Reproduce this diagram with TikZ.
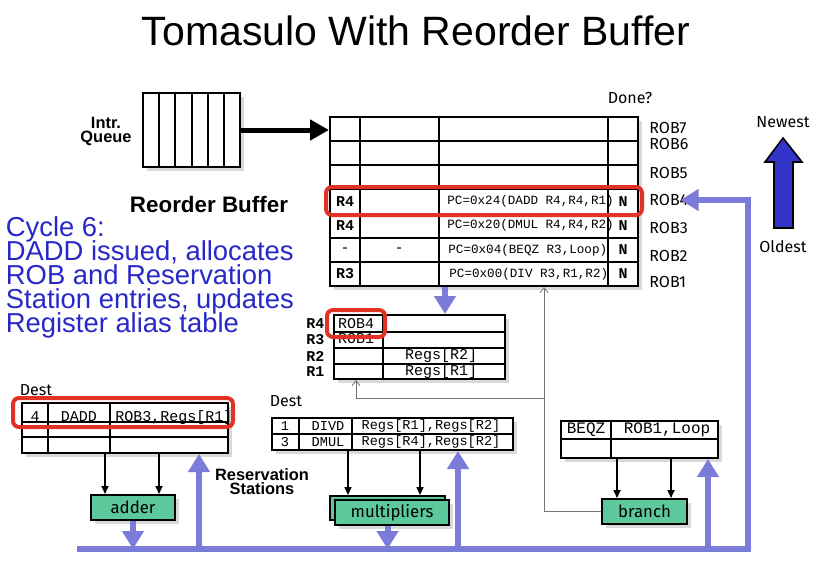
\documentclass[tikz,border=0pt]{standalone}
\usepackage{fontspec}
\setmainfont{Liberation Sans}
\setmonofont{Liberation Mono}
\newfontfamily\comicfont{Fira Sans}
\usetikzlibrary{arrows.meta,positioning,fit,shadows}
\definecolor{tmbus}{RGB}{123,123,216}
\definecolor{tmtext}{RGB}{40,40,200}
\definecolor{tmred}{RGB}{226,50,38}
\definecolor{tmgreen}{RGB}{92,200,155}
\definecolor{tmarrow}{RGB}{52,52,204}
\setlength{\lineskiplimit}{-5pt}

\tikzset{
  tbl/.style={draw, line width=1pt, fill=white, inner sep=0pt,
    drop shadow={opacity=0.3, shadow xshift=2pt, shadow yshift=-2pt}},
  tline/.style={line width=1pt},
  unit/.style={draw, line width=1pt, fill=tmgreen, inner sep=0pt,
    font=\comicfont\fontsize{8.4}{8.4}\selectfont,
    drop shadow={opacity=0.3, shadow xshift=2pt, shadow yshift=-2pt}},
  hilite/.style={draw=tmred, line width=2pt, rounded corners=3pt, inner sep=0pt},
  bus/.style={draw=tmbus, line width=3pt},
  busarrow/.style={bus, -{Triangle[width=10.5pt,length=9pt]}},
  feed/.style={line width=0.8pt, -{Triangle[length=4pt,width=3.5pt]}},
  wire/.style={draw=black!55, line width=0.4pt, -{Straight Barb[length=2.5pt,width=4pt]}},
  cell/.style={font=\ttfamily\fontsize{7.5}{7.5}\selectfont, inner sep=0pt},
  cellS/.style={font=\ttfamily\fontsize{6.8}{6.8}\selectfont, inner sep=0pt},
  pc/.style={font=\ttfamily\fontsize{6.3}{6.3}\selectfont, inner sep=0pt, anchor=west},
  bcell/.style={font=\ttfamily\bfseries\fontsize{7.5}{7.5}\selectfont, inner sep=0pt},
  lbl/.style={font=\comicfont\fontsize{8}{8}\selectfont, inner sep=0pt},
  hd/.style={font=\bfseries\fontsize{8.2}{7}\selectfont, inner sep=0pt, align=center}
}

\begin{document}
\begin{tikzpicture}[x=0.5pt, y=-0.5pt]
  \useasboundingbox (0,0) rectangle (818,578);

  \node[anchor=base, inner sep=0pt, font=\fontsize{20.5}{20.5}\selectfont] (title) at (416,45) {Tomasulo With Reorder Buffer};

  % instruction queue
  \foreach \i in {0,...,5}
    \node[tbl, minimum width=8.08pt, minimum height=37pt] (q\i) at ({151.1+16.17*\i},130) {};
  \node[hd, anchor=north] (iq) at (106,117) {Intr.\\Queue};
  \node[font=\bfseries\fontsize{11.2}{11.2}\selectfont, inner sep=0pt, anchor=base] (robname) at (209,212) {Reorder Buffer};

  % reorder buffer
  \node[tbl, fit={(330,117) (638,286)}] (rob) {};
  \draw[line width=2.5pt, -{Triangle[width=10pt,length=9.5pt]}] (q5.east) -- (q5.east -| rob.west);
  \foreach \x in {360,439,608} \draw[tline] (\x,117) -- (\x,286);
  \foreach \k in {1,...,6} \draw[tline] (330,{117+24.14*\k}) -- (638,{117+24.14*\k});

  \node[bcell] (d4) at (345,201.5) {R4};
  \node[pc] (p4) at (447,201.5) {PC=0x24(DADD R4,R4,R1)};
  \node[bcell] (n4) at (623,201.5) {N};
  \node[bcell] (d3) at (345,225.6) {R4};
  \node[pc] (p3) at (447,225.6) {PC=0x20(DMUL R4,R4,R2)};
  \node[bcell] (n3) at (623,225.6) {N};
  \node[cell] (d2) at (345,249.8) {-};
  \node[cell] (v2) at (399,249.8) {-};
  \node[pc] (p2) at (448,249.8) {PC=0x04(BEQZ R3,Loop)};
  \node[bcell] (n2) at (623,249.8) {N};
  \node[bcell] (d1) at (345,273.9) {R3};
  \node[pc] (p1) at (449,273.9) {PC=0x00(DIV R3,R1,R2)};
  \node[bcell] (n1) at (623,273.9) {N};

  \node[lbl] (done) at (630,98) {Done?};
  \foreach \n/\y in {7/128,6/144,5/173,4/200,3/228,2/256,1/282}
    \node[lbl, anchor=west] (lb\n) at (649,\y) {ROB\n};

  % register alias table
  \node[tbl, fit={(334,315) (505,379)}] (rat) {};
  \draw[tline] (383,315) -- (383,379);
  \foreach \y in {332,348,364} \draw[tline] (334,\y) -- (505,\y);
  \foreach \r/\y in {4/323.5,3/340,2/356,1/371.5}
    \node[bcell, anchor=west] (rr\r) at (306,\y) {R\r};
  \node[cell] (rat4) at (356,323.5) {ROB4};
  \node[cell] (rat3) at (356,338.5) {ROB1};
  \node[cell] (rat2) at (441,356) {Regs[R2]};
  \node[cell] (rat1) at (441,371.5) {Regs[R1]};

  % reservation stations
  \node[tbl, fit={(22,403) (228,453)}] (addrs) {};
  \foreach \x in {48,110} \draw[tline] (\x,403) -- (\x,453);
  \foreach \y in {422,437} \draw[tline] (22,\y) -- (228,\y);
  \node[cell, anchor=base] (a1) at (35,421) {4};
  \node[cell, anchor=base] (a2) at (79,421) {DADD};
  \node[cell, anchor=base west] (a3) at (115,421) {ROB3,Regs[R1]};
  \node[lbl] (dest1) at (36,390) {Dest};

  \node[tbl, fit={(272,418) (513,450)}] (mulrs) {};
  \foreach \x in {299,352} \draw[tline] (\x,418) -- (\x,450);
  \draw[tline] (272,434) -- (513,434);
  \node[cellS] (m11) at (285,426) {1};
  \node[cellS] (m12) at (328,426) {DIVD};
  \node[cellS] (m13) at (431,426) {Regs[R1],Regs[R2]};
  \node[cellS] (m21) at (285,442) {3};
  \node[cellS] (m22) at (328,442) {DMUL};
  \node[cellS] (m23) at (431,442) {Regs[R4],Regs[R2]};
  \node[lbl] (dest2) at (286,401) {Dest};
  \node[hd, anchor=north] (rsname) at (262,468) {Reservation\\Stations};

  \node[tbl, fit={(561,421) (718,458)}] (brrs) {};
  \draw[tline] (611,421) -- (611,458);
  \draw[tline] (561,439) -- (718,439);
  \node[cell, font=\ttfamily\fontsize{8}{8}\selectfont] (b1) at (586,430) {BEQZ};
  \node[cell, font=\ttfamily\fontsize{8}{8}\selectfont] (b2) at (667,430) {ROB1,Loop};

  % functional units
  \node[unit, minimum width=42pt, minimum height=12.5pt] (adder) at (133,507.5) {adder};
  \node[unit, minimum width=57.5pt, minimum height=12pt] (mulb) at (387.5,508) {};
  \node[unit, minimum width=57pt, minimum height=12.5pt] (mult) at (392,512.5) {multipliers};
  \node[unit, minimum width=42.5pt, minimum height=12.5pt] (br) at (644.5,511.5) {branch};

  \draw[feed] (addrs.south -| 105,0) -- (adder.north -| 105,0);
  \draw[feed] (addrs.south -| 159,0) -- (adder.north -| 159,0);
  \draw[feed] (mulrs.south -| 348,0) -- (mulb.north -| 348,0);
  \draw[feed] (mulrs.south -| 420,0) -- (mulb.north -| 420,0);
  \draw[feed] (brrs.south -| 617,0) -- (br.north -| 617,0);
  \draw[feed] (brrs.south -| 671,0) -- (br.north -| 671,0);

  % branch result paths
  \coordinate (jn) at (544,398);
  \draw[wire] (br.west) -| (rob.south -| jn);
  \draw[wire] (jn) -| (rat.south -| 356,0);

  % common data bus
  \coordinate (busw) at (77,549);
  \coordinate (buse) at (748,549);
  \draw[busarrow] (busw) -- (buse) -- (buse |- lb4) -- ([xshift=-4pt]lb4.east);
  \draw[busarrow] (busw -| 199,0) -- (addrs.south -| 199,0);
  \draw[busarrow] (busw -| 458,0) -- (mulrs.south -| 458,0);
  \draw[busarrow] (busw -| 708,0) -- (brrs.south -| 708,0);
  \draw[busarrow] (adder.south) -- (adder.south |- busw);
  \draw[busarrow] (mult.south -| mulb.south) -- (busw -| mulb.south);
  \draw[busarrow] (rob.south -| 445,0) -- (rat.north -| 445,0);

  % highlights
  \node[hilite, fit={(326,187) (642,215)}] (hrob) {};
  \node[hilite, fit={(327,310) (385,337)}] (hrat) {};
  \node[hilite, fit={(13,398) (233,427)}] (hrs) {};

  % age arrow
  \draw[line width=0.8pt, fill=tmarrow] (783,138) -- (802,162) -- (793,162) -- (793,228)
    -- (774,228) -- (774,162) -- (765,162) -- cycle;
  \node[lbl] (newest) at (783,122) {Newest};
  \node[lbl] (oldest) at (783,247) {Oldest};

  \node[anchor=north west, inner sep=0pt, align=left, text=tmtext,
    font=\fontsize{13.7}{12}\selectfont] (cycle) at (5.5,216)
    {Cycle 6:\\DADD issued, allocates\\ROB and Reservation\\Station entries, updates\\Register alias table};
\end{tikzpicture}
\end{document}
